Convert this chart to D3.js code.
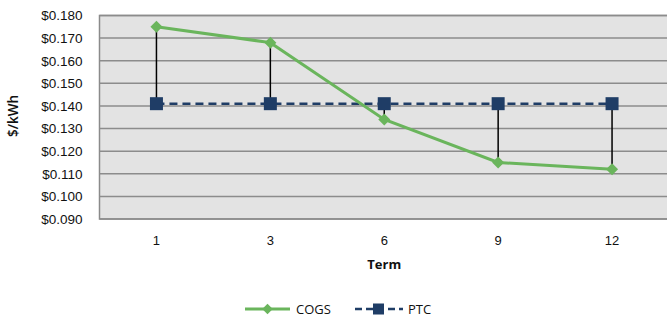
<!DOCTYPE html>
<html><head><meta charset="utf-8">
<script src="https://cdn.jsdelivr.net/npm/d3@7"></script>
<style>body{margin:0;background:#fff;} svg{display:block;font-family:"Open Sans","Noto Sans",sans-serif;}</style>
</head><body>
<svg id="c" width="667" height="320"></svg>
<script>
const categories = ["1", "3", "6", "9", "12"];
const cogs = [0.175, 0.168, 0.134, 0.115, 0.112];
const ptc = [0.141, 0.141, 0.141, 0.141, 0.141];
const yTicks = [0.09, 0.10, 0.11, 0.12, 0.13, 0.14, 0.15, 0.16, 0.17, 0.18];

const svg = d3.select("#c");
const L = 99.5, R = 669, T = 15.5, B = 219;
const x = d3.scaleBand().domain(categories).range([L, R]);
const y = d3.scaleLinear().domain([0.09, 0.18]).range([B, T]);
const cx = d => x(d) + x.bandwidth() / 2;

svg.append("rect").attr("x", L).attr("y", T).attr("width", R - L).attr("height", B - T)
  .attr("fill", "#e3e3e3").attr("stroke", "#8a8a8a").attr("stroke-width", 1.5);

svg.append("g").selectAll("line").data(yTicks).join("line")
  .attr("x1", L).attr("x2", R).attr("y1", d => y(d)).attr("y2", d => y(d))
  .attr("stroke", "#8c8c8c").attr("stroke-width", 1.5);

const yAxis = svg.append("g").attr("transform", `translate(${L},0)`)
  .call(d3.axisLeft(y).tickValues(yTicks).tickFormat(d => "$" + d3.format(".3f")(d)).tickSize(0).tickPadding(17));
yAxis.select(".domain").remove();
yAxis.selectAll("text").attr("font-size", 13.5).attr("fill", "#111");

const xAxis = svg.append("g").attr("transform", `translate(0,${B})`)
  .call(d3.axisBottom(x).tickSize(0).tickPadding(17));
xAxis.select(".domain").remove();
xAxis.selectAll("text").attr("font-size", 13).attr("fill", "#111");

svg.append("text").attr("x", (L + 669) / 2 - 0).attr("y", 269).attr("text-anchor", "middle")
  .attr("font-size", 13).attr("font-weight", "bold").attr("fill", "#111").text("Term");

svg.append("text").attr("transform", "translate(18,116) rotate(-90)").attr("text-anchor", "middle")
  .attr("font-size", 13.5).attr("font-weight", 600).attr("fill", "#111").text("$/kWh");

// high-low lines
svg.append("g").selectAll("line").data(categories).join("line")
  .attr("x1", d => cx(d)).attr("x2", d => cx(d))
  .attr("y1", (d, i) => y(cogs[i])).attr("y2", (d, i) => y(ptc[i]))
  .attr("stroke", "#000").attr("stroke-width", 1.5);

const line = d3.line().x((d, i) => cx(categories[i])).y(d => y(d));
svg.append("path").datum(ptc).attr("d", line).attr("fill", "none")
  .attr("stroke", "#1f3d66").attr("stroke-width", 2.5).attr("stroke-dasharray", "8,5");
svg.append("path").datum(cogs).attr("d", line).attr("fill", "none")
  .attr("stroke", "#6ab55c").attr("stroke-width", 3);

svg.append("g").selectAll("path").data(cogs).join("path")
  .attr("d", d3.symbol().type(d3.symbolSquare).size(72))
  .attr("transform", (d, i) => `translate(${cx(categories[i])},${y(d)}) rotate(45)`)
  .attr("fill", "#6ab55c");
svg.append("g").selectAll("rect").data(ptc).join("rect")
  .attr("x", (d, i) => cx(categories[i]) - 6.5).attr("y", d => y(d) - 6.5)
  .attr("width", 13).attr("height", 13).attr("fill", "#1f3d66");

// legend
const lg = svg.append("g");
lg.append("line").attr("x1", 245).attr("x2", 290).attr("y1", 309).attr("y2", 309)
  .attr("stroke", "#6ab55c").attr("stroke-width", 3);
lg.append("path").attr("d", d3.symbol().type(d3.symbolSquare).size(55)())
  .attr("transform", "translate(267.5,309) rotate(45)").attr("fill", "#6ab55c");
lg.append("text").attr("x", 296).attr("y", 314).attr("font-size", 13).attr("fill", "#111").text("COGS");
lg.append("line").attr("x1", 355).attr("x2", 403).attr("y1", 309).attr("y2", 309)
  .attr("stroke", "#1f3d66").attr("stroke-width", 2.5).attr("stroke-dasharray", "7,4");
lg.append("rect").attr("x", 373).attr("y", 303.5).attr("width", 11).attr("height", 11).attr("fill", "#1f3d66");
lg.append("text").attr("x", 408).attr("y", 314).attr("font-size", 13).attr("fill", "#111").text("PTC");
</script>
</body></html>
